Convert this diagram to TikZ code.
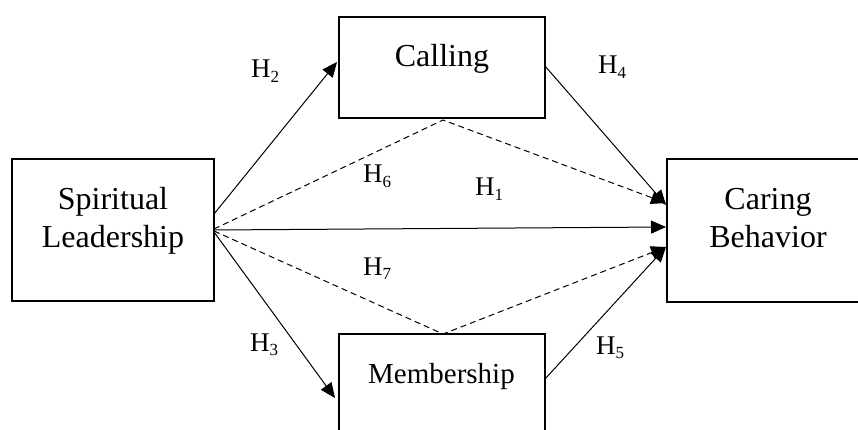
\documentclass[tikz,border=0pt]{standalone}
\usepackage{fontspec}
\setmainfont{Liberation Serif}
\usetikzlibrary{arrows.meta}
\newcommand{\hsub}[1]{H\raisebox{-0.15em}{\fontsize{17}{20}\selectfont #1}}
\tikzset{
  box/.style={draw=black, line width=2.4pt, rectangle, inner sep=0pt},
  lbl/.style={font=\fontsize{32}{38}\selectfont, anchor=base, inner sep=0pt},
  slbl/.style={font=\fontsize{29}{34}\selectfont, anchor=base, inner sep=0pt},
  hyp/.style={font=\fontsize{27}{30}\selectfont, anchor=base west, inner sep=0pt},
  arr/.style={line width=1pt, -{Triangle[length=15pt,width=13pt]}},
  darr/.style={arr, dash pattern=on 6pt off 4pt},
}
\begin{document}
\begin{tikzpicture}[x=1pt,y=-1pt]
\useasboundingbox (0,0) rectangle (858,430);
\clip (0,0) rectangle (858,430);
% boxes
\node[box, minimum width=202pt, minimum height=142pt] (sl) at (113,230) {};
\node[box, minimum width=206pt, minimum height=101pt] (ca) at (442,67.5) {};
\node[box, minimum width=202pt, minimum height=143pt] (cb) at (768,230.5) {};
\node[box, minimum width=206pt, minimum height=130pt] (me) at (442,399) {};
% texts
\node[lbl] (slt1) at (113,210) {Spiritual};
\node[lbl] (slt2) at (113,247) {Leadership};
\node[lbl] (cat) at (442,67) {Calling};
\node[lbl] (cbt1) at (768,210) {Caring};
\node[lbl] (cbt2) at (768,247) {Behavior};
\node[slbl] (met) at (441.5,383) {Membership};
% connector end points
\coordinate (s2) at (214,214);
\coordinate (s1) at (214,230);
\coordinate (s3) at (214,232);
\coordinate (s6) at (214,229);
\coordinate (s7) at (214,231);
\coordinate (t2) at (337,62);
\coordinate (t3) at (335,398);
\coordinate (t1) at (666,227);
\coordinate (a6) at (443,120);
\coordinate (a7) at (443,334);
\coordinate (t6) at (666,203);
\coordinate (t7) at (666,247);
\coordinate (c4) at (545,66);
\coordinate (t4) at (666,205);
\coordinate (m5) at (545,379);
\coordinate (t5) at (666,247);
% connectors
\draw[arr] (s2) -- (t2);
\draw[arr] (s1) -- (t1);
\draw[arr] (s3) -- (t3);
\draw[darr] (s6) -- (a6) -- (t6);
\draw[darr] (s7) -- (a7) -- (t7);
\draw[arr] (c4) -- (t4);
\draw[arr] (m5) -- (t5);
% hypothesis labels
\node[hyp] (h2) at (251,78) {\hsub{2}};
\node[hyp] (h4) at (598,74) {\hsub{4}};
\node[hyp] (h6) at (363,183) {\hsub{6}};
\node[hyp] (h1) at (475,196) {\hsub{1}};
\node[hyp] (h7) at (363,275) {\hsub{7}};
\node[hyp] (h3) at (250,351) {\hsub{3}};
\node[hyp] (h5) at (596,354) {\hsub{5}};
\end{tikzpicture}
\end{document}
